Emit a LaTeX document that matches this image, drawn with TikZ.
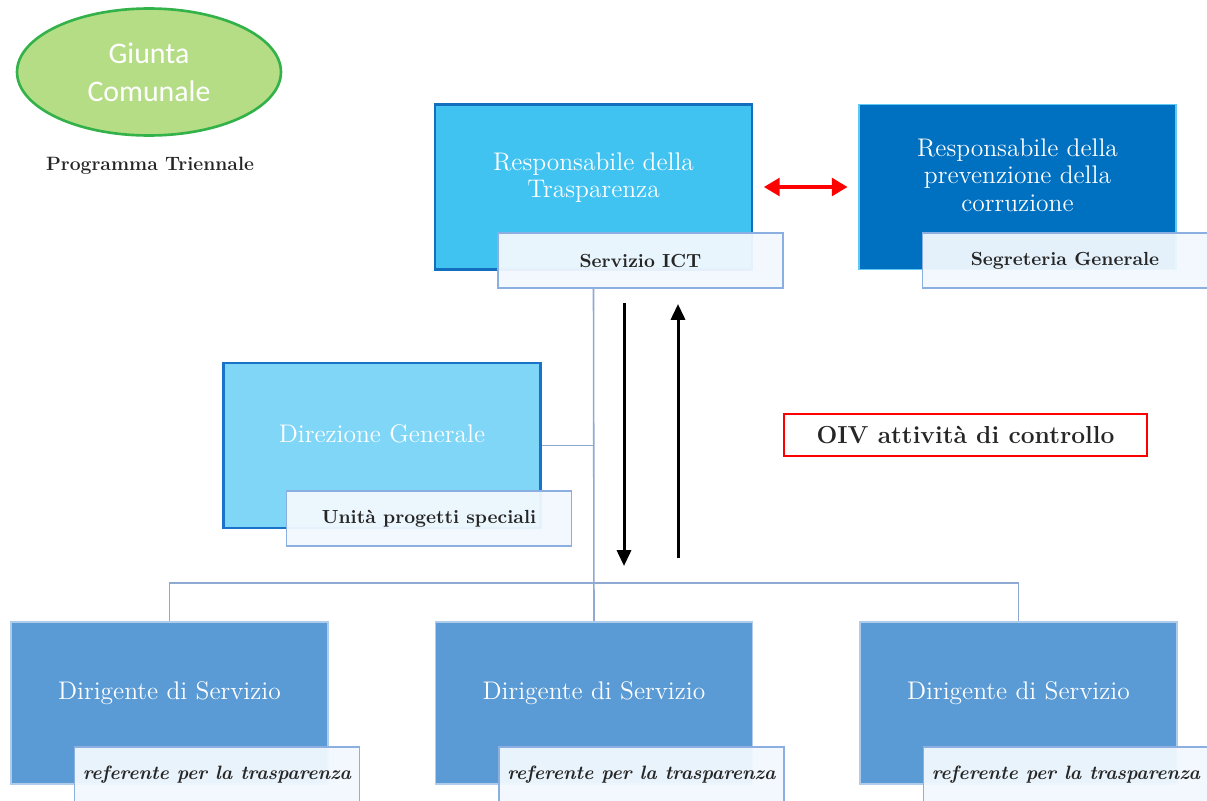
\documentclass[tikz,border=0pt]{standalone}
\usepackage{fontspec}
\newfontfamily\giuntafont{Carlito}
\usetikzlibrary{arrows.meta,shapes.geometric}

\definecolor{giuntafill}{RGB}{181,221,134}
\definecolor{giuntaline}{RGB}{52,178,74}
\definecolor{trasfill}{RGB}{65,195,242}
\definecolor{trasline}{RGB}{20,110,190}
\definecolor{corrfill}{RGB}{0,112,192}
\definecolor{corrline}{RGB}{95,200,245}
\definecolor{dirfill}{RGB}{127,214,247}
\definecolor{dirline}{RGB}{25,115,200}
\definecolor{servfill}{RGB}{91,155,213}
\definecolor{servline}{RGB}{175,205,235}
\definecolor{tagfill}{RGB}{241,248,254}
\definecolor{tagline}{RGB}{140,175,225}
\definecolor{orgline}{RGB}{143,170,210}

\begin{document}
\begin{tikzpicture}[%
      x=0.02cm, y=-0.02cm,
      every node/.style={align=center, inner sep=2pt},
      office/.style={draw, line width=1.5pt, minimum width=6.34cm, minimum height=3.3cm,
                     text=white, text depth=0.48cm,
                     font={\fontsize{14.5}{15.5}\selectfont}},
      service/.style={office, fill=servfill, draw=servline, line width=0.9pt,
                      minimum height=3.24cm},
      tag/.style={draw=tagline, line width=0.9pt, fill=tagfill, fill opacity=0.95,
                  text opacity=1, minimum width=5.7cm, minimum height=1.1cm,
                  text=black!85, font={\fontsize{10.8}{12}\selectfont\bfseries}},
      referent/.style={tag, minimum height=1.12cm,
                       font={\fontsize{11}{12}\selectfont\bfseries\itshape}},
      org/.style={draw=orgline, line width=0.9pt},
      flow/.style={line width=1.7pt, -{Triangle[width=8pt,length=9pt]}},
      link/.style={red, line width=2.2pt, shorten <=6pt, shorten >=6pt,
                   {Triangle[width=10pt,length=9pt]}-{Triangle[width=10pt,length=9pt]}}
    ]
    \useasboundingbox (0,0) rectangle (1207,801);
    \clip (0,0) rectangle (1207,801);

    \node [ellipse, draw=giuntaline, line width=1.5pt, fill=giuntafill,
           minimum width=5.28cm, minimum height=2.54cm, text=white,
           font={\giuntafont\fontsize{17}{21.5}\selectfont}]
      (giunta) at (149,72) {Giunta\\Comunale};
    \node [font={\fontsize{11}{13}\selectfont\bfseries}, text=black!85]
      (programma) at (150,166) {Programma Triennale};

    \node [office, fill=trasfill, draw=trasline] (T box) at (593.5,187)
      {Responsabile della\\Trasparenza};
    \node [office, fill=corrfill, draw=corrline, line width=1pt] (C box) at (1017.5,187)
      {Responsabile della\\prevenzione della\\corruzione};
    \node [office, fill=dirfill, draw=dirline] (D box) at (382,445.5)
      {Direzione Generale};
    \node [service] (S1 box) at (169.5,703) {Dirigente di Servizio};
    \node [service] (S2 box) at (594,703) {Dirigente di Servizio};
    \node [service] (S3 box) at (1018.5,703) {Dirigente di Servizio};

    \node [tag] (T tag) at ([shift={(47,73.5)}]T box.center) {Servizio ICT};
    \node [tag] (C tag) at ([shift={(47.5,73.5)}]C box.center) {Segreteria Generale};
    \node [tag] (D tag) at ([shift={(47,73)}]D box.center) {Unità progetti speciali};
    \node [referent] (S1 tag) at ([shift={(47.5,72)}]S1 box.center) {referente per la trasparenza};
    \node [referent] (S2 tag) at ([shift={(47.5,72)}]S2 box.center) {referente per la trasparenza};
    \node [referent] (S3 tag) at ([shift={(47.5,72)}]S3 box.center) {referente per la trasparenza};

    \draw [org] (T box.center |- T tag.south) -- (S2 box.north);
    \draw [org] (D box.east) -- (D box.east -| T box.center);
    \coordinate (bus) at (594,583);
    \draw [org] (S1 box.north) |- (bus) -| (S3 box.north);

    \draw [link] (T box.east) -- (C box.west);

    \coordinate (down top) at (624,303);
    \coordinate (down end) at (624,566);
    \coordinate (up start) at (678,558);
    \coordinate (up end) at (678,304);
    \draw [flow] (down top) -- (down end);
    \draw [flow] (up start) -- (up end);

    \node [draw=red, line width=1.2pt, fill=white, minimum width=7.26cm,
           minimum height=0.84cm, text=black!85,
           font={\fontsize{14}{16}\selectfont\bfseries}]
      (oiv) at (965.5,435) {OIV attività di controllo};
\end{tikzpicture}
\end{document}
